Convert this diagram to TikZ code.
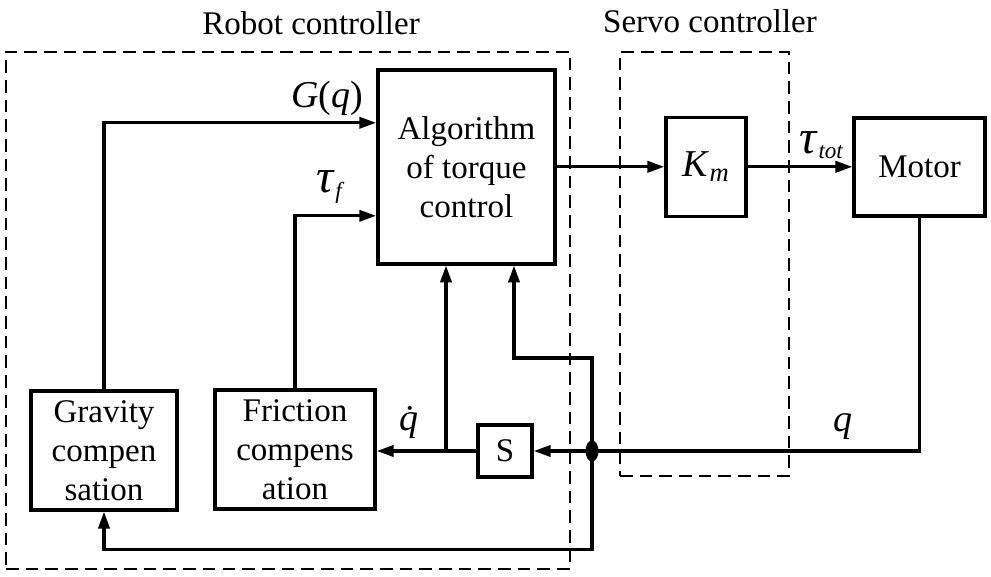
\documentclass[tikz,border=0pt]{standalone}
\usepackage{fontspec}
\setmainfont{Liberation Serif}
\usetikzlibrary{arrows.meta,shapes.geometric}
\newcommand{\labelsize}{\fontsize{23.5}{27.7}\selectfont}
\newcommand{\symsize}{\fontsize{27}{30}\selectfont}
\newcommand{\tausize}{\fontsize{34}{34}\selectfont}

\begin{document}
\begin{tikzpicture}[every node/.style={rectangle}, text centered, line width=2.2pt, font=\labelsize,
	>={Triangle[length=12pt,width=8pt]},
	block/.style={draw, line width=2.5pt, inner sep=0pt, align=center},
	dashbox/.style={draw, line width=1.4pt, dash pattern=on 9pt off 5pt, inner sep=0pt}]
	\useasboundingbox (0,0) rectangle (24.775,14.4);
	% controller frames
	\node[dashbox, minimum width=14.1cm, minimum height=12.925cm] (robotBox) at (7.2,6.6375) {};
	\node[dashbox, minimum width=4.225cm, minimum height=10.6cm] (servoBox) at (17.6125,7.8) {};
	\node[] (robotText) at (7.775,13.825) {Robot controller};
	\node[] (servoText) at (17.75,13.875) {Servo controller};
	% blocks
	\node[block, minimum width=4.425cm, minimum height=4.85cm] (alg) at (11.66,10.23) {Algorithm\\of torque\\control};
	\node[block, minimum width=2cm, minimum height=2.475cm, font=\symsize] (km) at (17.65,10.23) {\textit{K}\textsubscript{\textit{m}}};
	\node[block, minimum width=3.275cm, minimum height=2.45cm] (motor) at (22.99,10.23) {Motor};
	\node[block, minimum width=3.65cm, minimum height=2.975cm] (grav) at (2.6,3.14) {Gravity\\compen\\sation};
	\node[block, minimum width=4cm, minimum height=2.975cm] (fric) at (7.375,3.16) {Friction\\compens\\ation};
	\node[block, minimum width=1.35cm, minimum height=1.3cm] (s) at (12.625,3.125) {S};
	\node[ellipse, fill, inner sep=0pt, minimum width=0.325cm, minimum height=0.525cm] (junc) at (14.8,3.125) {};
	\coordinate (qdBranch) at (11.15,3.125);
	\coordinate (qUp) at (12.85,5.45);
	% signals
	\draw[->] (grav.north) |- ([yshift=1.1cm]alg.west);
	\draw[->] (fric.north) |- ([yshift=-1.225cm]alg.west);
	\draw[->] (alg.east) -- (km.west);
	\draw[->] (km.east) -- (motor.west);
	\draw[->] (motor.south) |- (s.east);
	\draw[->] (s.west) -- (s.west -| fric.east);
	\draw[->] (qdBranch) -- (qdBranch |- alg.south);
	\draw[->] (junc.center) |- (qUp) -- (qUp |- alg.south);
	\draw[->] (junc.center) |- ([yshift=-0.9525cm]grav.south) -- (grav.south);
	% labels
	\node[font=\symsize] (gqText) at (8.175,11.95) {\textit{G}(\textit{q})};
	\node[] (tauFText) at (8.275,9.725) {{\tausize\textit{τ}}\textsubscript{\textit{f}}};
	\node[] (tauTotText) at (20.55,10.775) {{\tausize\textit{τ}}\textsubscript{\textit{tot}}};
	\node[font=\symsize] (qText) at (21.075,3.725) {\textit{q}};
	\node[font=\symsize] (qDotText) at (10.35,3.85) {\textit{\.{q}}};
\end{tikzpicture}
\end{document}
